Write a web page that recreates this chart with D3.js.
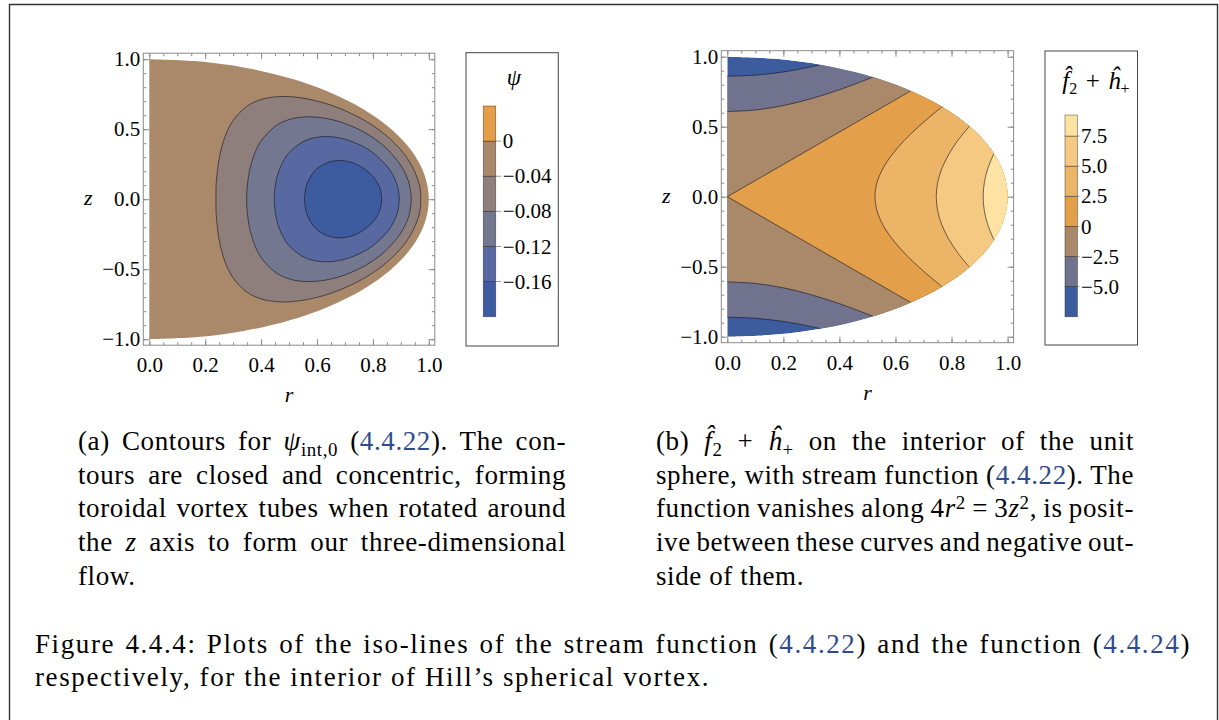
<!DOCTYPE html>
<html>
<head>
<meta charset="utf-8">
<script src="https://cdn.jsdelivr.net/npm/d3@7"></script>
<style>
body { margin: 0; background: #fff; }
#fig { position: relative; width: 1219px; height: 720px; overflow: hidden; }
#fig svg { position: absolute; left: 0; top: 0; }
.cap { position: absolute; font-family: "Liberation Serif", "Times New Roman", serif; font-size: 27px; line-height: 34px; white-space: nowrap; color: #000; }
.cap i { font-style: italic; }
.ref { color: #2f4a8e; }
.sub { font-size: 70%; position: relative; top: 0.3em; }
.sup { font-size: 70%; position: relative; top: -0.45em; }
</style>
</head>
<body>
<div id="fig"></div>
<script>
// ---- data ----

// domain edge: upper half of the unit circle, [r, z]
var unitBoundary = [[0, 1], [0.1736, 0.9848], [0.342, 0.9397], [0.5, 0.866], [0.6428, 0.766],
  [0.766, 0.6428], [0.866, 0.5], [0.9397, 0.342], [0.9848, 0.1736], [1, 0]];

// (a) psi contours, upper halves [r, z]
var psiLevels = [-0.04, -0.08, -0.12, -0.16];
var psiContours = [
  [[0.2384, 0], [0.2388, 0.088], [0.24, 0.128], [0.25, 0.29], [0.27, 0.442], [0.3, 0.563], [0.35, 0.665],
   [0.4, 0.712], [0.45, 0.731], [0.5, 0.733], [0.55, 0.722], [0.6, 0.701], [0.65, 0.672], [0.7, 0.633],
   [0.75, 0.585], [0.8, 0.526], [0.85, 0.451], [0.9, 0.352], [0.93, 0.271], [0.95, 0.196], [0.96, 0.143],
   [0.968, 0.089], [0.9713, 0]],
  [[0.3484, 0], [0.35, 0.082], [0.36, 0.217], [0.38, 0.342], [0.4, 0.416], [0.45, 0.52], [0.5, 0.569],
   [0.55, 0.587], [0.6, 0.586], [0.65, 0.57], [0.7, 0.541], [0.75, 0.498], [0.8, 0.44], [0.85, 0.36],
   [0.9, 0.241], [0.92, 0.166], [0.93, 0.109], [0.9373, 0]],
  [[0.4472, 0], [0.45, 0.086], [0.46, 0.18], [0.48, 0.274], [0.5, 0.332], [0.55, 0.411], [0.6, 0.442],
   [0.65, 0.446], [0.7, 0.428], [0.75, 0.391], [0.8, 0.332], [0.85, 0.237], [0.87, 0.178], [0.88, 0.138],
   [0.89, 0.077], [0.8944, 0]],
  [[0.5553, 0], [0.56, 0.078], [0.57, 0.136], [0.6, 0.218], [0.65, 0.269], [0.7, 0.273], [0.75, 0.241],
   [0.8, 0.163], [0.82, 0.101], [0.828, 0.057], [0.8316, 0]]
];
var psiLegendEdges = [-0.2, -0.16, -0.12, -0.08, -0.04, 0, 0.04];
var psiLegendTicks = [0, -0.04, -0.08, -0.12, -0.16];
var psiLegendLabels = ["0", "\u22120.04", "\u22120.08", "\u22120.12", "\u22120.16"];

// (b) f2 + h+ contours, upper halves [r, z]
var fhAxisLevels = [-5, -2.5, 0];          // curves leaving the r = 0 axis
var fhAxisContours = [
  [[0, 0.8607], [0.1, 0.8684], [0.2, 0.8911], [0.3, 0.9278], [0.3333, 0.9428]],
  [[0, 0.6086], [0.1, 0.6194], [0.2, 0.6509], [0.3, 0.7003], [0.4, 0.764], [0.5, 0.8389], [0.5195, 0.8545]],
  [[0, 0], [0.6547, 0.7559]]
];
var fhSideLevels = [2.5, 5, 7.5];          // curves crossing z = 0
var fhSideContours = [
  [[0.527, 0], [0.5341, 0.1], [0.5548, 0.2], [0.5876, 0.3], [0.6307, 0.4], [0.6821, 0.5], [0.7401, 0.6], [0.7663, 0.6424]],
  [[0.7454, 0], [0.7504, 0.1], [0.7652, 0.2], [0.7893, 0.3], [0.8219, 0.4], [0.8637, 0.504]],
  [[0.9129, 0], [0.917, 0.1], [0.9292, 0.2], [0.9512, 0.3086]]
];
var fhLegendEdges = [-7.5, -5, -2.5, 0, 2.5, 5, 7.5, 9.25];
var fhLegendTicks = [-5, -2.5, 0, 2.5, 5, 7.5];
var fhLegendLabels = ["\u22125.0", "\u22122.5", "0", "2.5", "5.0", "7.5"];

// axis ticks
var rTicks = [0, 0.2, 0.4, 0.6, 0.8, 1.0];
var zTicks = [-1, -0.5, 0, 0.5, 1];

// captions
var capA = [
  '(a) Contours for <i>\u03c8</i><span class="sub">int,0</span> (<span class="ref">4.4.22</span>). The con-',
  'tours are closed and concentric, forming',
  'toroidal vortex tubes when rotated around',
  'the <i>z</i> axis to form our three-dimensional',
  'flow.'
];
var capB = [
  '(b) <i>f\u0302</i><span class="sub">2</span> + <i>\u0125</i><span class="sub">+</span> on the interior of the unit',
  'sphere, with stream function (<span class="ref">4.4.22</span>). The',
  'function vanishes along 4<i>r</i><span class="sup">2</span> = 3<i>z</i><span class="sup">2</span>, is posit-',
  'ive between these curves and negative out-',
  'side of them.'
];
var capFig = [
  'Figure 4.4.4: Plots of the iso-lines of the stream function (<span class="ref">4.4.22</span>) and the function (<span class="ref">4.4.24</span>)',
  'respectively, for the interior of Hill\u2019s spherical vortex.'
];

// ---- colours ----
var psiColors = ["#3d5c9f", "#5769a0", "#737890", "#8e7f7c", "#aa896b", "#e49f4b"];
var fhColors = ["#3c5c9e", "#70728e", "#aa896b", "#e49f4b", "#ecb467", "#f5c982", "#fde3a3"];
var serif = '"Liberation Serif", "Times New Roman", serif';
var lineColor = "rgba(20,20,30,0.6)";
var frameColor = "#8a8a8a";

var fig = d3.select("#fig");
var svg = fig.append("svg").attr("width", 1219).attr("height", 720);

// page frame
svg.append("path")
  .attr("d", "M9.5,730V4.5H1217.5V730")
  .attr("fill", "none").attr("stroke", "#333").attr("stroke-width", 1.4);

function mirror(pts) {
  return pts.map(function (p) { return [p[0], -p[1]]; });
}

// frame with ticks on all four sides, labels on bottom and left
function drawFrame(g, x, y, pad) {
  var fx0 = x(0) - pad, fx1 = x(1) + pad, fy0 = y(1) - pad, fy1 = y(-1) + pad;
  var rMinor = d3.range(0, 1.001, 0.05);
  var zMinor = d3.range(-1, 1.001, 0.1);

  function style(a) {
    a.select(".domain").remove();
    a.selectAll("line").attr("stroke", frameColor);
    a.selectAll("text").attr("font-family", serif).attr("font-size", 21).attr("fill", "#000");
  }
  g.append("g").attr("transform", "translate(0," + fy1 + ")")
    .call(d3.axisBottom(x).tickValues(rMinor).tickSize(-3).tickFormat("")).call(style);
  g.append("g").attr("transform", "translate(0," + fy1 + ")")
    .call(d3.axisBottom(x).tickValues(rTicks).tickSize(-6).tickPadding(12).tickFormat(d3.format(".1f"))).call(style);
  g.append("g").attr("transform", "translate(0," + fy0 + ")")
    .call(d3.axisTop(x).tickValues(rMinor).tickSize(-3).tickFormat("")).call(style);
  g.append("g").attr("transform", "translate(0," + fy0 + ")")
    .call(d3.axisTop(x).tickValues(rTicks).tickSize(-6).tickFormat("")).call(style);

  g.append("g").attr("transform", "translate(" + fx0 + ",0)")
    .call(d3.axisLeft(y).tickValues(zMinor).tickSize(-3).tickFormat("")).call(style);
  g.append("g").attr("transform", "translate(" + fx0 + ",0)")
    .call(d3.axisLeft(y).tickValues(zTicks).tickSize(-6).tickPadding(3).tickFormat(d3.format(".1f"))).call(style);
  g.append("g").attr("transform", "translate(" + fx1 + ",0)")
    .call(d3.axisRight(y).tickValues(zMinor).tickSize(-3).tickFormat("")).call(style);
  g.append("g").attr("transform", "translate(" + fx1 + ",0)")
    .call(d3.axisRight(y).tickValues(zTicks).tickSize(-6).tickFormat("")).call(style);

  g.append("rect")
    .attr("x", fx0).attr("y", fy0).attr("width", fx1 - fx0).attr("height", fy1 - fy0)
    .attr("fill", "none").attr("stroke", frameColor).attr("stroke-width", 1);

  // axis labels
  g.append("text").attr("x", (fx0 + fx1) / 2).attr("y", fy1 + 57)
    .attr("text-anchor", "middle").attr("font-family", serif).attr("font-style", "italic")
    .attr("font-size", 22).text("r");
  g.append("text").attr("x", fx0 - 55).attr("y", y(0) + 6)
    .attr("text-anchor", "middle").attr("font-family", serif).attr("font-style", "italic")
    .attr("font-size", 22).text("z");
}

function drawLegend(g, box, barX, labelGap, scale, edges, colors, ticks, labels) {
  g.append("rect").attr("x", box[0]).attr("y", box[1]).attr("width", box[2]).attr("height", box[3])
    .attr("fill", "#fff").attr("stroke", "#444").attr("stroke-width", 1);
  var bands = d3.pairs(edges);
  g.selectAll(".band").data(bands).enter().append("rect")
    .attr("x", barX).attr("width", 12.4)
    .attr("y", function (d) { return scale(d[1]); })
    .attr("height", function (d) { return scale(d[0]) - scale(d[1]); })
    .attr("fill", function (d, i) { return colors[i]; })
    .attr("stroke", "rgba(0,0,0,0.45)").attr("stroke-width", 0.8);
  g.selectAll(".tk").data(ticks).enter().append("line")
    .attr("x1", barX + 12.4).attr("x2", barX + labelGap - 1.5)
    .attr("y1", function (d) { return scale(d); }).attr("y2", function (d) { return scale(d); })
    .attr("stroke", "#999");
  g.selectAll(".lb").data(ticks).enter().append("text")
    .attr("x", barX + labelGap).attr("y", function (d) { return scale(d); })
    .attr("dy", "0.34em").attr("font-family", serif).attr("font-size", 21)
    .text(function (d, i) { return labels[i]; });
}

// ---------- plot (a) ----------
var xa = d3.scaleLinear().domain([0, 1]).range([149.3, 428.8]);
var ya = d3.scaleLinear().domain([-1, 1]).range([339.2, 59.2]);
var lineA = d3.line().x(function (d) { return xa(d[0]); }).y(function (d) { return ya(d[1]); });
var gA = svg.append("g");

var diskPts = unitBoundary.concat(mirror(unitBoundary.slice(0, -1)).reverse());

gA.append("path")
  .attr("d", lineA.curve(d3.curveCatmullRom)(diskPts) + "Z")
  .attr("fill", psiColors[4]);

psiContours.forEach(function (upper, i) {
  var closed = upper.concat(mirror(upper.slice(1, -1)).reverse());
  gA.append("path")
    .attr("d", lineA.curve(d3.curveCatmullRomClosed)(closed))
    .attr("fill", psiColors[3 - i])
    .attr("stroke", lineColor).attr("stroke-width", 1);
});
drawFrame(gA, xa, ya, 6);

var psiScale = d3.scaleLinear().domain([-0.2, 0.04]).range([316.7, 106]);
drawLegend(svg.append("g"), [466, 52.7, 92.3, 293.3], 483.3, 19.5, psiScale, psiLegendEdges, psiColors,
  psiLegendTicks, psiLegendLabels);
svg.append("text").attr("x", 514).attr("y", 85).attr("text-anchor", "middle")
  .attr("font-family", serif).attr("font-style", "italic").attr("font-size", 23).text("\u03c8");

// ---------- plot (b) ----------
var xb = d3.scaleLinear().domain([0, 1]).range([727.3, 1007.6]);
var yb = d3.scaleLinear().domain([-1, 1]).range([336.7, 56.7]);
var lineB = d3.line().x(function (d) { return xb(d[0]); }).y(function (d) { return yb(d[1]); })
  .curve(d3.curveCatmullRom);
var gB = svg.append("g");

svg.append("clipPath").attr("id", "diskB").append("path")
  .attr("d", lineB(diskPts) + "Z");
var plotB = gB.append("g").attr("clip-path", "url(#diskB)");
var xR = xb(1) + 6;

plotB.append("path").attr("d", lineB(diskPts) + "Z").attr("fill", fhColors[0]);

// regions f >= level, painted in rising order
fhAxisContours.forEach(function (upper, i) {
  var end = upper[upper.length - 1];
  var lower = mirror(upper).reverse();
  var d = lineB(upper) + "L" + xR + "," + yb(end[1]) + "L" + xR + "," + yb(-end[1]) +
    lineB(lower).replace(/^M/, "L") + "Z";
  plotB.append("path").attr("d", d).attr("fill", fhColors[i + 1]);
});
fhSideContours.forEach(function (upper, i) {
  var end = upper[upper.length - 1];
  var full = upper.slice().reverse().concat(mirror(upper).slice(1));
  var d = lineB(full) + "L" + xR + "," + yb(-end[1]) + "L" + xR + "," + yb(end[1]) + "Z";
  plotB.append("path").attr("d", d).attr("fill", fhColors[i + 4]);
});
// contour lines
fhAxisContours.forEach(function (upper) {
  [upper, mirror(upper)].forEach(function (pts) {
    plotB.append("path").attr("d", lineB(pts)).attr("fill", "none")
      .attr("stroke", lineColor).attr("stroke-width", 1);
  });
});
fhSideContours.forEach(function (upper) {
  var full = upper.slice().reverse().concat(mirror(upper).slice(1));
  plotB.append("path").attr("d", lineB(full)).attr("fill", "none")
    .attr("stroke", lineColor).attr("stroke-width", 1);
});
drawFrame(gB, xb, yb, 6);

var fhScale = d3.scaleLinear().domain([-7.5, 9.25]).range([316.7, 115]);
drawLegend(svg.append("g"), [1045, 51, 92.5, 294], 1065, 16, fhScale, fhLegendEdges, fhColors,
  fhLegendTicks, fhLegendLabels);
var tB = svg.append("text").attr("x", 1096).attr("y", 89).attr("text-anchor", "middle")
  .attr("font-family", serif).attr("font-size", 25);
tB.append("tspan").attr("font-style", "italic").text("f\u0302");
tB.append("tspan").attr("font-size", 16).attr("dy", 5).text("2");
tB.append("tspan").attr("dy", -5).text("\u2004+\u2004");
tB.append("tspan").attr("font-style", "italic").text("\u0125");
tB.append("tspan").attr("font-size", 16).attr("dy", 5).text("+");

// ---------- captions ----------
function captionLines(lines, left, baseline0, width, step, spacing) {
  lines.forEach(function (html, i) {
    var div = fig.append("div").attr("class", "cap")
      .style("left", left + "px").style("top", (baseline0 + i * step - 26) + "px")
      .style("letter-spacing", spacing + "px")
      .html(html);
    if (i === lines.length - 1) return;
    var node = div.node();
    var w = node.getBoundingClientRect().width;
    var spaces = (node.textContent.match(/ /g) || []).length;
    if (spaces > 0) div.style("word-spacing", ((width - w) / spaces) + "px");
  });
}
captionLines(capA, 78, 450, 488, 33.7, 0.6);
captionLines(capB, 656, 450, 478, 33.7, 0.6);
captionLines(capFig, 35, 653, 1156, 33, 1.6);
</script>
</body>
</html>
